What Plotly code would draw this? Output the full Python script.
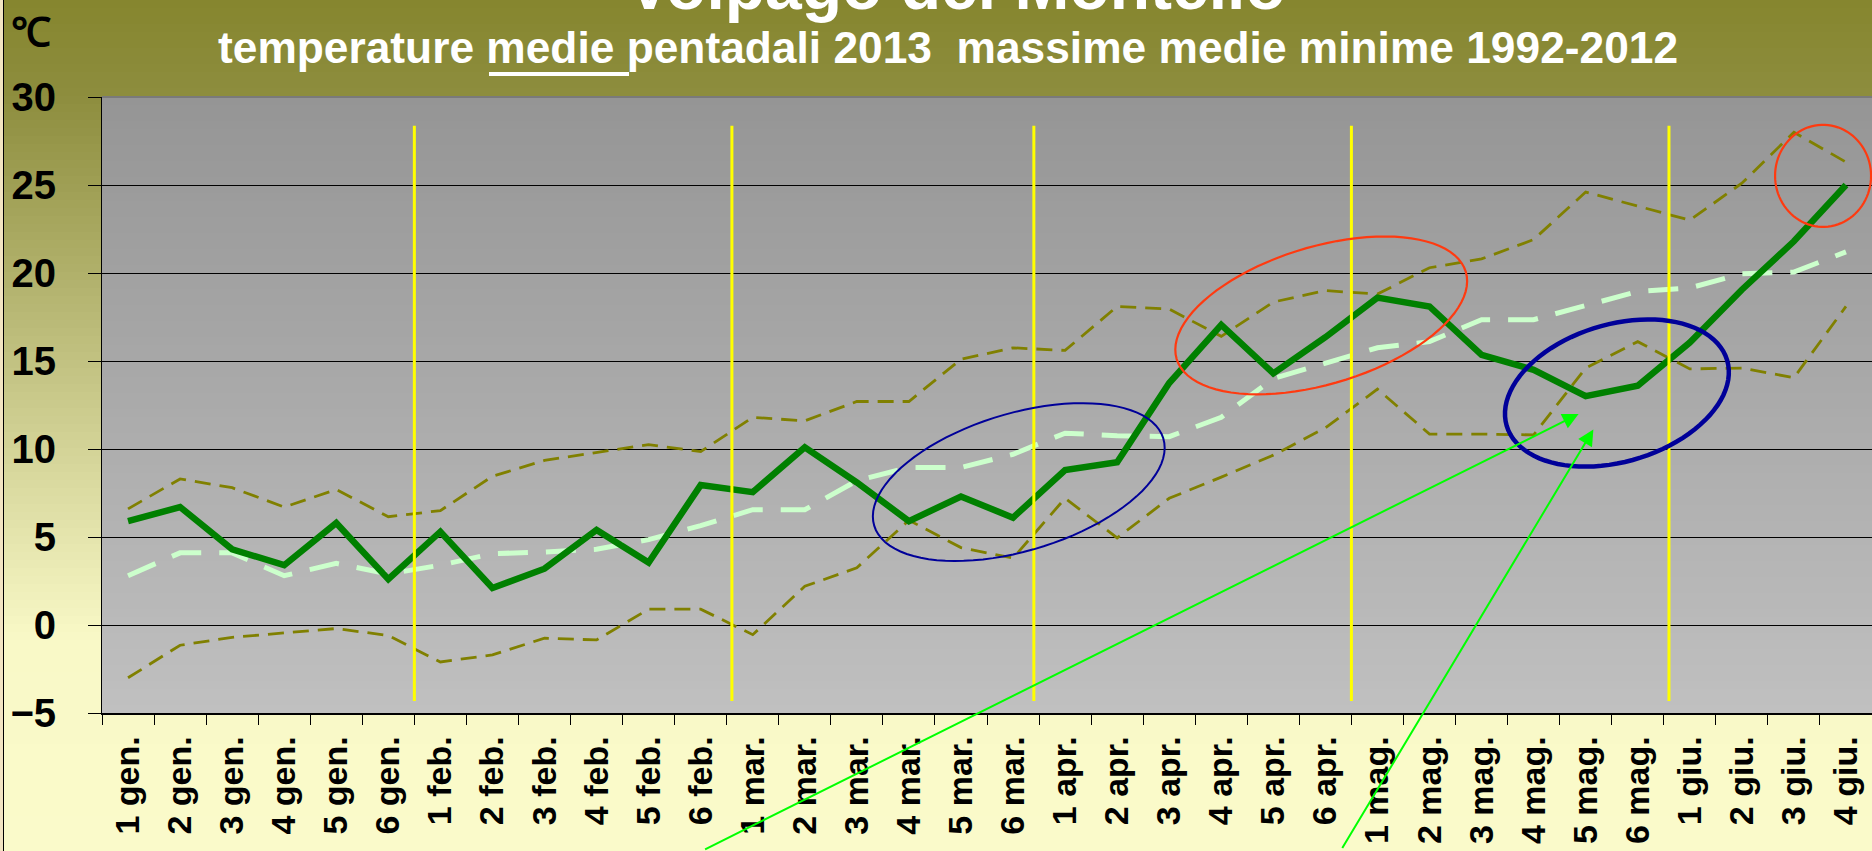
import numpy as np
import plotly.graph_objects as go

# ---------------- data ----------------
labels = ["1 gen.", "2 gen.", "3 gen.", "4 gen.", "5 gen.", "6 gen.",
          "1 feb.", "2 feb.", "3 feb.", "4 feb.", "5 feb.", "6 feb.",
          "1 mar.", "2 mar.", "3 mar.", "4 mar.", "5 mar.", "6 mar.",
          "1 apr.", "2 apr.", "3 apr.", "4 apr.", "5 apr.", "6 apr.",
          "1 mag.", "2 mag.", "3 mag.", "4 mag.", "5 mag.", "6 mag.",
          "1 giu.", "2 giu.", "3 giu.", "4 giu."]

medie_2013 = [5.9, 6.7, 4.3, 3.4, 5.8, 2.6, 5.3, 2.1, 3.2, 5.4, 3.55, 7.95,
              7.55, 10.1, 8.1, 5.9, 7.3, 6.1, 8.8, 9.25, 13.75, 17.05, 14.3, 16.35,
              18.6, 18.1, 15.35, 14.5, 13.0, 13.6, 16.05, 19.05, 21.8, 25.0]

medie_1992_2012 = [2.8, 4.1, 4.1, 2.8, 3.5, 2.9, 3.4, 4.05, 4.15, 4.3, 4.85, 5.65,
                   6.55, 6.55, 8.2, 8.95, 8.95, 9.7, 10.9, 10.75, 10.7, 11.8, 14.0, 14.9,
                   15.75, 16.1, 17.35, 17.35, 18.15, 18.95, 19.15, 19.95, 20.05, 21.2]

massime_1992_2012 = [6.6, 8.3, 7.8, 6.7, 7.7, 6.15, 6.5, 8.45, 9.35, 9.8, 10.25, 9.85,
                     11.8, 11.6, 12.7, 12.7, 15.1, 15.75, 15.6, 18.1, 17.95, 16.4, 18.35, 19.0,
                     18.8, 20.3, 20.8, 21.9, 24.6, 23.8, 23.0, 25.1, 28.0, 26.3]

minime_1992_2012 = [-3.0, -1.15, -0.7, -0.45, -0.2, -0.6, -2.1, -1.7, -0.75, -0.85, 0.9, 0.9,
                    -0.55, 2.2, 3.25, 5.95, 4.4, 3.8, 7.2, 4.95, 7.2, 8.4, 9.65, 11.2,
                    13.4, 10.85, 10.85, 10.8, 14.6, 16.1, 14.55, 14.6, 14.05, 18.1]

month_separators = [5.5, 11.6, 17.4, 23.5, 29.6]

title_text = "Volpago del Montello"
subtitle_text = "temperature medie pentadali 2013  massime medie minime 1992-2012"
unit_text = "℃"

# ---------------- layout geometry ----------------
W, H = 1872, 851
ML, MR, MT, MB = 102, 0, 97, 138
PW, PH = W - ML - MR, H - MT - MB
XR = (-0.5, len(labels) - 0.5)
YR = (-5, 30)
xpu = PW / (XR[1] - XR[0])
ypu = PH / (YR[1] - YR[0])


def pxx(X):
    return (X - ML) / PW


def pxy(Y):
    return (H - MB - Y) / PH


def lerp_color(stops, Y):
    for (y0, c0), (y1, c1) in zip(stops[:-1], stops[1:]):
        if y0 <= Y <= y1:
            f = (Y - y0) / (y1 - y0) if y1 > y0 else 0
            return "rgb(%d,%d,%d)" % tuple(round(a + (b - a) * f) for a, b in zip(c0, c1))
    return "rgb(%d,%d,%d)" % stops[-1][1]


shapes = []
# figure background gradient (olive -> pale yellow)
fig_stops = [(0, (134, 134, 46)), (95, (141, 141, 62)), (640, (249, 249, 199)), (851, (250, 250, 202))]
step = 8
for Y in range(0, H, step):
    shapes.append(dict(type="rect", xref="paper", yref="paper", layer="below",
                       x0=pxx(0), x1=pxx(W), y0=pxy(Y + step + 1), y1=pxy(Y),
                       fillcolor=lerp_color(fig_stops, Y + step / 2), line_width=0))
# plot area gradient (gray)
plot_stops = [(MT, (149, 149, 149)), (H - MB, (192, 192, 192))]
for Y in range(MT, H - MB, step):
    y_bot = min(Y + step + 1, H - MB)
    shapes.append(dict(type="rect", xref="paper", yref="paper", layer="below",
                       x0=0, x1=1, y0=pxy(y_bot), y1=pxy(Y),
                       fillcolor=lerp_color(plot_stops, Y + step / 2), line_width=0))
# left border strip
shapes.append(dict(type="rect", xref="paper", yref="paper", layer="above",
                   x0=pxx(0), x1=pxx(3), y0=pxy(H), y1=pxy(0),
                   fillcolor="#F2E4C2", line_width=0))
shapes.append(dict(type="line", xref="paper", yref="paper", layer="above",
                   x0=pxx(3.5), x1=pxx(3.5), y0=pxy(H), y1=pxy(0),
                   line=dict(color="black", width=1)))
# plot area top border
shapes.append(dict(type="line", xref="paper", yref="paper", layer="above",
                   x0=0, x1=1, y0=1, y1=1, line=dict(color="#7A7A7A", width=2)))
# month separators
for xb in month_separators:
    shapes.append(dict(type="line", xref="x", yref="y", layer="above",
                       x0=xb, x1=xb, y0=-4.32, y1=28.37,
                       line=dict(color="#FFFF00", width=3)))


def ellipse_path(cx, cy, a_px, b_px, ang_deg, n=90):
    t = np.linspace(0, 2 * np.pi, n, endpoint=False)
    th = np.radians(ang_deg)
    dx = a_px * np.cos(t) * np.cos(th) - b_px * np.sin(t) * np.sin(th)
    dy = a_px * np.cos(t) * np.sin(th) + b_px * np.sin(t) * np.cos(th)
    xs = cx + dx / xpu
    ys = cy + dy / ypu
    return "M " + " L ".join(f"{x:.4f},{y:.4f}" for x, y in zip(xs, ys)) + " Z"


ellipses = [
    (17.11, 8.12, 151, 68.7, 16.8, "#000099", 2),
    (22.92, 17.59, 151, 68.7, 16.8, "#FF3A10", 2.2),
    (28.60, 13.18, 115, 68.7, 16.6, "#000099", 4.5),
    (32.56, 25.52, 48, 51, 0, "#FF3A10", 2.2),
]
for cx, cy, a, b, ang, col, w in ellipses:
    shapes.append(dict(type="path", xref="x", yref="y", layer="above",
                       path=ellipse_path(cx, cy, a, b, ang),
                       line=dict(color=col, width=w), fillcolor="rgba(0,0,0,0)"))

# underline of "medie "
shapes.append(dict(type="line", xref="paper", yref="paper", layer="above",
                   x0=pxx(489), x1=pxx(629), y0=pxy(74), y1=pxy(74),
                   line=dict(color="white", width=4)))

x = list(range(len(labels)))
fig = go.Figure()
fig.add_trace(go.Scatter(x=x, y=minime_1992_2012, mode="lines", name="minime 1992-2012",
                         line=dict(color="#808000", width=2.8, dash="16px,9px"), hoverinfo="skip"))
fig.add_trace(go.Scatter(x=x, y=massime_1992_2012, mode="lines", name="massime 1992-2012",
                         line=dict(color="#808000", width=2.8, dash="16px,9px"), hoverinfo="skip"))
fig.add_trace(go.Scatter(x=x, y=medie_1992_2012, mode="lines", name="medie 1992-2012",
                         line=dict(color="#CCFFCC", width=5, dash="30px,18px"), hoverinfo="skip"))
fig.add_trace(go.Scatter(x=x, y=medie_2013, mode="lines", name="medie 2013",
                         line=dict(color="#008000", width=6.5), hoverinfo="skip"))

font_family = "Arial, Liberation Sans, sans-serif"
annotations = [
    dict(text=title_text, xref="paper", yref="paper", x=pxx(956), y=pxy(-13.6),
         xanchor="center", yanchor="middle", showarrow=False,
         font=dict(family=font_family, size=66, color="white", weight="bold")),
    dict(text=subtitle_text, xref="paper", yref="paper", x=pxx(947.5), y=pxy(48),
         xanchor="center", yanchor="middle", showarrow=False,
         font=dict(family=font_family, size=44.3, color="white", weight="bold")),
    dict(text=unit_text, xref="paper", yref="paper", x=pxx(31), y=pxy(31.5),
         xanchor="center", yanchor="middle", showarrow=False,
         font=dict(family=font_family, size=40, color="black", weight="bold")),
    # green arrows
    dict(text="", x=27.864, y=11.985, xref="x", yref="y", ax=-875, ay=436,
         showarrow=True, arrowhead=2, arrowsize=1.6, arrowwidth=2, arrowcolor="#00FF00", standoff=0),
    dict(text="", x=28.148, y=11.11, xref="x", yref="y", ax=-252, ay=420,
         showarrow=True, arrowhead=2, arrowsize=1.6, arrowwidth=2, arrowcolor="#00FF00", standoff=0),
]

fig.update_layout(
    width=W, height=H,
    margin=dict(l=ML, r=MR, t=MT, b=MB, pad=0, autoexpand=False),
    paper_bgcolor="#FAFAC8",
    plot_bgcolor="rgba(0,0,0,0)",
    showlegend=False,
    shapes=shapes,
    annotations=annotations,
    font=dict(family=font_family, color="black"),
    xaxis=dict(range=list(XR), tickmode="array", tickvals=x, ticktext=labels,
               tickangle=-90, ticks="", showgrid=False, zeroline=False, automargin=False,
               showline=True, linecolor="black", linewidth=1.5,
               ticklabelstandoff=8,
               tickfont=dict(family=font_family, size=34, color="black", weight="bold"),
               minor=dict(tick0=-0.5, dtick=1, ticks="outside", ticklen=10,
                          tickcolor="black", tickwidth=1, showgrid=False)),
    yaxis=dict(range=list(YR), dtick=5, tick0=0, ticks="outside", ticklen=13,
               tickcolor="black", tickwidth=1, showgrid=True, gridcolor="black",
               gridwidth=1, zeroline=False, showline=True, linecolor="black", linewidth=1,
               automargin=False, ticklabelstandoff=24,
               tickfont=dict(family=font_family, size=40, color="black", weight="bold")),
)

fig.write_html("out.html", config={"displayModeBar": False},
               post_script="document.body.style.margin='0';document.body.style.overflow='hidden';")
